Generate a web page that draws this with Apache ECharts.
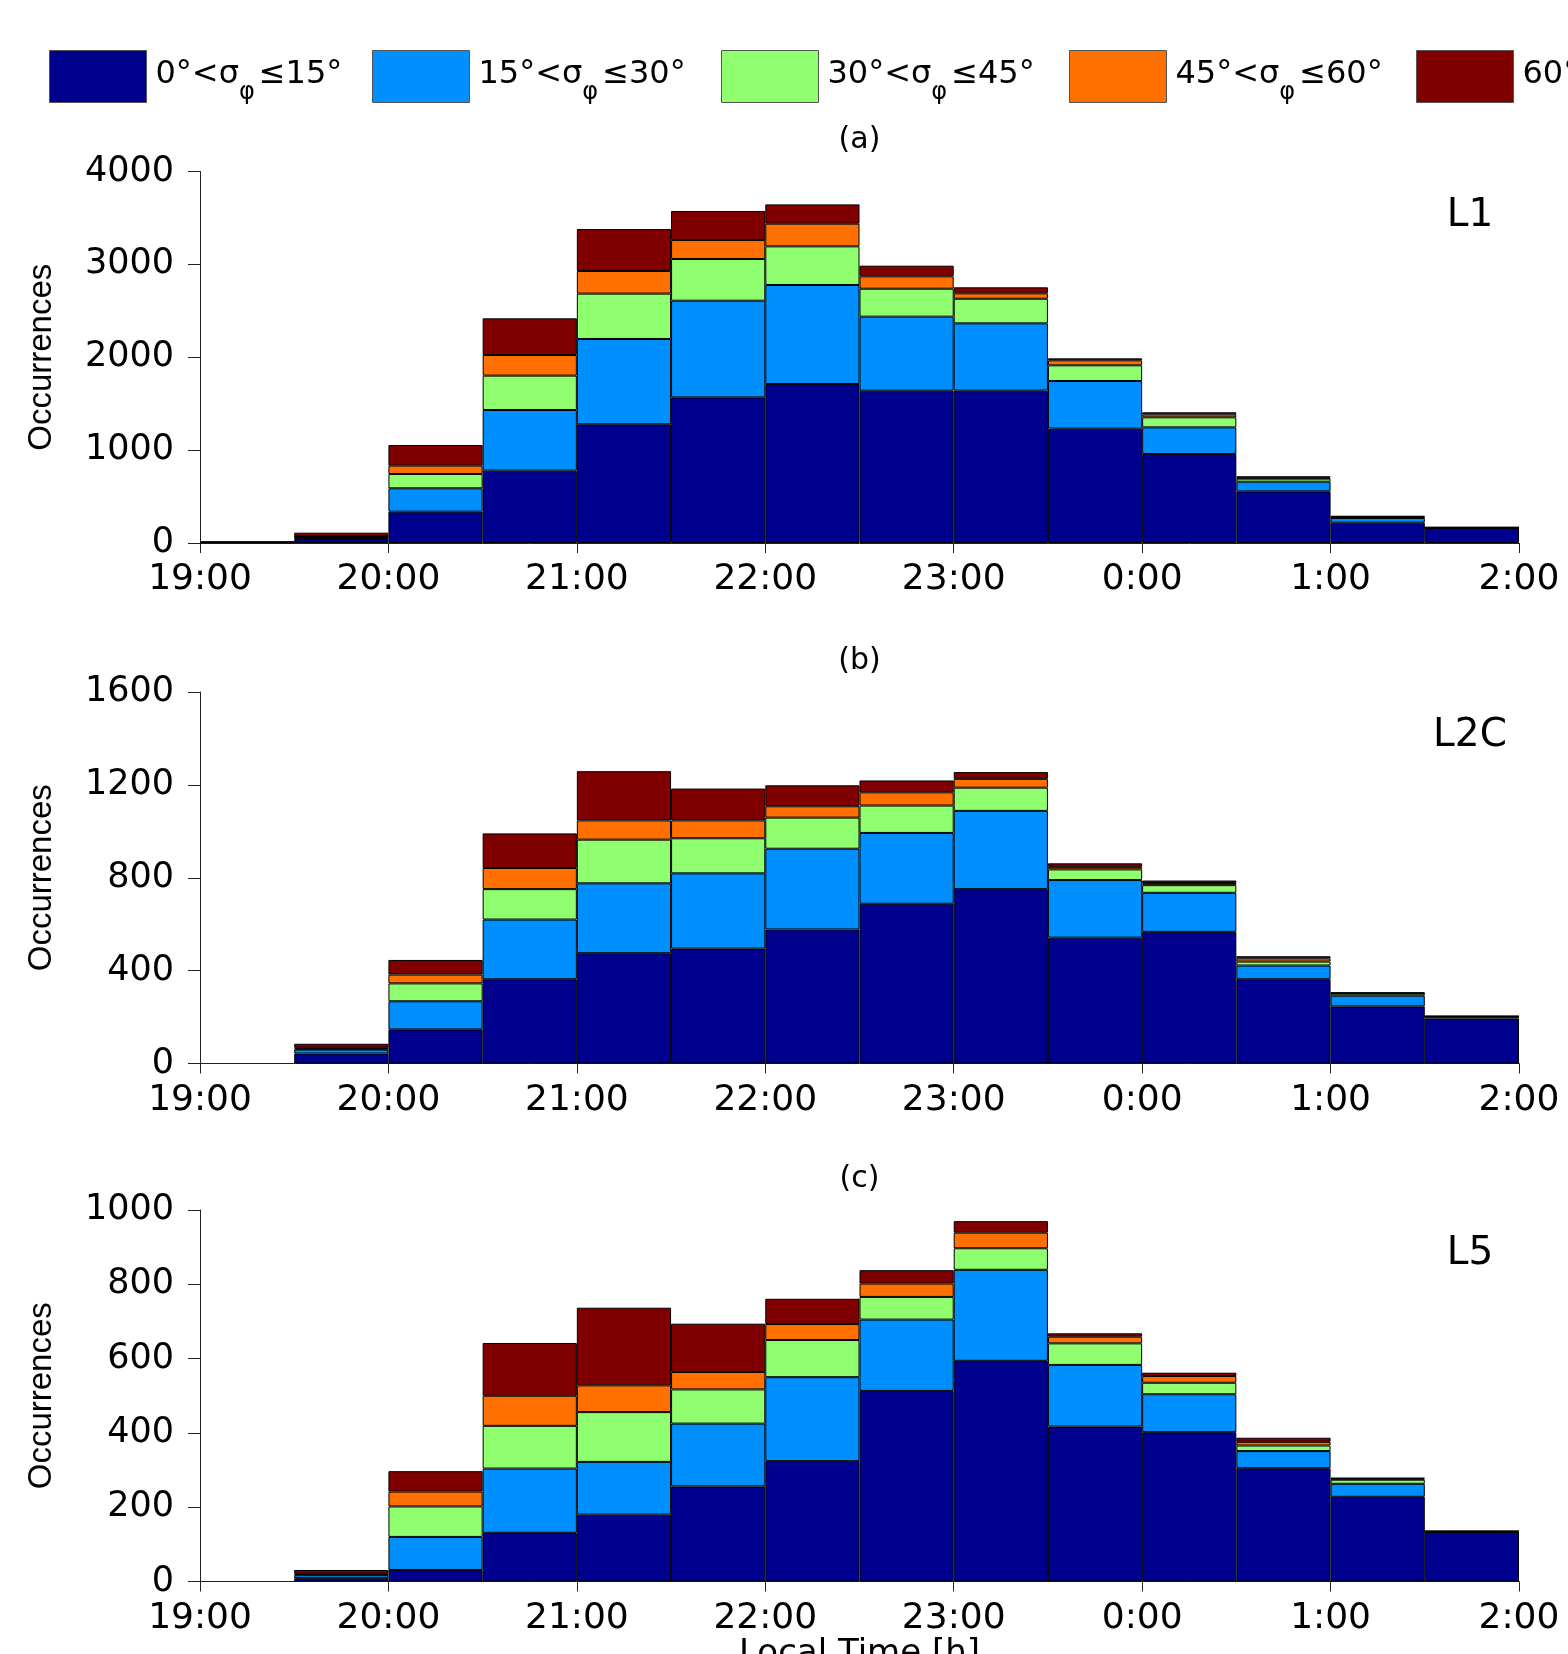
<!DOCTYPE html>
<html><head><meta charset="utf-8">
<script src="https://cdn.jsdelivr.net/npm/echarts@6/dist/echarts.min.js"></script>
<style>html,body{margin:0;padding:0;background:#fff;}#c{width:1568px;height:1654px;}</style>
</head><body><div id="c"></div>
<script>
// 30-minute bins (start times)
const binStarts = ['19:00','19:30','20:00','20:30','21:00','21:30','22:00','22:30','23:00','23:30','0:00','0:30','1:00','1:30'];
// hour tick labels (axis runs 19 -> 26 h)
const hourTickLabels = ['19:00','20:00','21:00','22:00','23:00','0:00','1:00','2:00'];
const seriesNames = ['0°<σφ≤15°','15°<σφ≤30°','30°<σφ≤45°','45°<σφ≤60°','60°<σφ≤90°'];
const panelTags = ['(a)','(b)','(c)'];
const signalNames = ['L1','L2C','L5'];

// Panel (a) L1
const L1_0_15  = [8, 43, 337, 779, 1278, 1568, 1712, 1640, 1640, 1231, 958, 556, 219, 162];
const L1_15_30 = [0, 22, 252, 653, 918, 1041, 1066, 797, 725, 513, 287, 104, 50, 4];
const L1_30_45 = [0, 4, 154, 370, 489, 449, 416, 301, 265, 169, 108, 33, 8, 1];
const L1_45_60 = [0, 4, 90, 222, 244, 204, 244, 133, 58, 54, 32, 10, 6, 1];
const L1_60_90 = [0, 38, 222, 395, 452, 313, 208, 115, 65, 21, 22, 15, 8, 1];
// Panel (b) L2C
const L2C_0_15  = [null, 43, 147, 363, 475, 495, 577, 688, 751, 542, 567, 363, 246, 194];
const L2C_15_30 = [null, 17, 121, 257, 301, 324, 348, 305, 337, 248, 168, 59, 46, 8];
const L2C_30_45 = [null, 4, 77, 131, 188, 151, 134, 118, 100, 46, 33, 17, 9, 1];
const L2C_45_60 = [null, 4, 38, 91, 83, 77, 49, 57, 38, 11, 9, 14, 2, 0];
const L2C_60_90 = [null, 17, 63, 149, 212, 137, 90, 51, 29, 15, 11, 9, 3, 1];
// Panel (c) L5
const L5_0_15  = [null, 9, 31, 131, 180, 256, 324, 513, 594, 417, 402, 305, 228, 133];
const L5_15_30 = [null, 8, 89, 173, 142, 169, 226, 192, 245, 166, 102, 46, 35, 1];
const L5_30_45 = [null, 2, 82, 115, 134, 92, 100, 61, 58, 58, 31, 15, 11, 1];
const L5_45_60 = [null, 2, 40, 81, 72, 47, 43, 36, 42, 18, 18, 10, 3, 0];
const L5_60_90 = [null, 10, 55, 142, 209, 130, 68, 36, 31, 9, 9, 11, 2, 1];

const yMax = [4000, 1600, 1000];
const yStep = [1000, 400, 200];

const panels = [
  [L1_0_15, L1_15_30, L1_30_45, L1_45_60, L1_60_90],
  [L2C_0_15, L2C_15_30, L2C_30_45, L2C_45_60, L2C_60_90],
  [L5_0_15, L5_15_30, L5_30_45, L5_45_60, L5_60_90]
];

const colors = ['#00008F', '#008FFF', '#8FFF70', '#FF7000', '#800000'];
const FONT = 'DejaVu Sans';
const gridTops = [171.5, 692, 1210];
const gridH = 371.5;
const gridLeft = 200, gridW = 1319;

const grids = [], xAxes = [], yAxes = [], series = [], graphics = [];
for (let p = 0; p < 3; p++) {
  grids.push({left: gridLeft, width: gridW, top: gridTops[p], height: gridH, containLabel: false, outerBoundsMode: 'none'});
  xAxes.push({type: 'category', gridIndex: p, data: binStarts, show: false, boundaryGap: true});
  xAxes.push({
    type: 'value', gridIndex: p, min: 19, max: 26, interval: 1, position: 'bottom',
    axisLine: {show: true, onZero: false, lineStyle: {color: '#222', width: 1}},
    axisTick: {show: true, inside: false, length: 10, lineStyle: {color: '#222'}},
    axisLabel: {show: true, margin: 19, fontSize: 36, fontFamily: FONT, color: '#000',
      formatter: v => hourTickLabels[Math.round(v) - 19]},
    splitLine: {show: false},
    name: p === 2 ? 'Local Time [h]' : '', nameLocation: 'middle', nameGap: 56,
    nameTextStyle: {fontSize: 34, fontFamily: FONT, color: '#000'}
  });
  yAxes.push({
    type: 'value', gridIndex: p, min: 0, max: yMax[p], interval: yStep[p],
    axisLine: {show: true, lineStyle: {color: '#222', width: 1}},
    axisTick: {show: true, inside: false, length: 12, lineStyle: {color: '#222'}},
    axisLabel: {margin: 26, fontSize: 35, fontFamily: FONT, color: '#000', formatter: v => String(v)},
    splitLine: {show: false},
    name: 'Occurrences', nameLocation: 'middle', nameRotate: 90, nameGap: 142,
    nameTextStyle: {fontSize: 33, fontFamily: 'Liberation Sans', color: '#000'}
  });
  for (let s = 0; s < 5; s++) {
    series.push({
      type: 'bar', name: seriesNames[s], stack: 'st' + p,
      xAxisIndex: p * 2, yAxisIndex: p,
      data: panels[p][s], barWidth: '100%', barCategoryGap: '0%',
      itemStyle: {color: colors[s], borderColor: '#000', borderWidth: 1},
      emphasis: {disabled: true}, animation: false
    });
  }
  graphics.push({type: 'text', x: gridLeft + gridW / 2, y: gridTops[p] - 31,
    style: {text: panelTags[p], fontSize: 30, fontFamily: FONT, fill: '#000',
      align: 'center', textAlign: 'center', verticalAlign: 'middle', textVerticalAlign: 'middle'}});
  graphics.push({type: 'text', x: 1470, y: gridTops[p] + 44,
    style: {text: signalNames[p], fontSize: 39, fontFamily: FONT, fill: '#000',
      align: 'center', textAlign: 'center', verticalAlign: 'middle', textVerticalAlign: 'middle'}});
}

const legendLefts = [44, 367, 716, 1064, 1411];
const legends = seriesNames.map((n, i) => ({
  data: [n], left: legendLefts[i], top: 45, orient: 'horizontal',
  itemWidth: 97, itemHeight: 52, selectedMode: false, icon: 'rect',
  itemStyle: {borderColor: '#555', borderWidth: 1},
  formatter: name => { const parts = name.split('φ'); return '{t|' + parts[0] + '}{s|φ}{t|' + parts[1] + '}'; },
  textStyle: {
    rich: {
      t: {fontSize: 32, fontFamily: FONT, color: '#000', verticalAlign: 'top', padding: [11, 0, 0, 4]},
      s: {fontSize: 24, fontFamily: FONT, color: '#000', verticalAlign: 'bottom', padding: [33, 0, 0, 0]}
    }
  }
}));

const chart = echarts.init(document.getElementById('c'), null, {renderer: 'canvas'});
chart.setOption({
  animation: false,
  backgroundColor: '#fff',
  legend: legends,
  grid: grids,
  xAxis: xAxes,
  yAxis: yAxes,
  series: series,
  graphic: graphics
});
</script>
</body></html>
